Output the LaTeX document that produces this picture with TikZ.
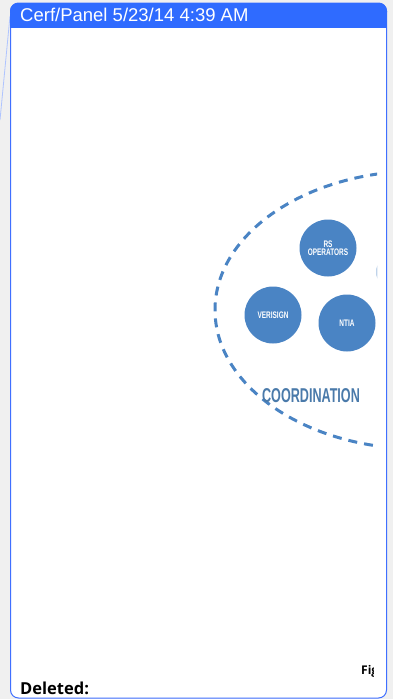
\documentclass[tikz,border=0pt]{standalone}
\usepackage{fontspec}
\setmainfont{Liberation Sans}
\newfontfamily\uifont{Open Sans}
\usepackage{graphicx}
\definecolor{pagegray}{HTML}{F0F0F0}
\definecolor{hdrblue}{HTML}{2F6BFF}
\definecolor{edgeblue}{HTML}{3F6FFF}
\definecolor{circblue}{HTML}{4A84C4}
\definecolor{textblue}{HTML}{4A7AAA}
\definecolor{leader}{HTML}{AFC4FF}
\tikzset{
  orgcircle/.style={circle, fill=circblue, minimum size=57pt, inner sep=0pt, text=white, font=\bfseries\fontsize{9.5}{10}\selectfont, align=center},
  dashring/.style={draw=circblue, line width=3pt, dash pattern=on 9pt off 7pt},
}
\begin{document}
\begin{tikzpicture}[x=1pt,y=-1pt]
\useasboundingbox (0,0) rectangle (393,699);
\fill[pagegray] (0,0) rectangle (393,699);
% leader line
\coordinate (lA) at (10,16);
\coordinate (lB) at (0,120);
\draw[leader, line width=0.8pt] (lA) -- (lB);
% panel
\path[fill=white, draw=edgeblue, line width=1pt, rounded corners=8pt] (10.5,3) rectangle (386.5,698);
\path[fill=hdrblue, rounded corners=8pt] (10,3) rectangle (387,20);
\fill[hdrblue] (10,14) rectangle (387,28);
\node[anchor=base west, text=white, font=\fontsize{18.5}{20}\selectfont, inner sep=0pt] (hdr) at (20,21) {Cerf/Panel 5/23/14 4:39 AM};
% diagram clipped
\begin{scope}
\clip (11,29) rectangle (377,697);
\draw[dashring] (420,310) ellipse [x radius=205, y radius=139];
\node[orgcircle] (rs) at (328,248) {\scalebox{0.68}[1]{RS}\\[-1.5pt]\scalebox{0.68}[1]{OPERATORS}};
\node[orgcircle] (veri) at (273,315) {\scalebox{0.68}[1]{VERISIGN}};
\node[orgcircle] (ntia) at (347,323) {\scalebox{0.68}[1]{NTIA}};
\node[orgcircle] (part) at (405,272) {};
\node[text=textblue, font=\bfseries\fontsize{20}{22}\selectfont] (coord) at (311,396) {\scalebox{0.63}[1]{COORDINATION}};
\end{scope}
\begin{scope}
\clip (11,650) rectangle (373,697);
\node[anchor=base west, inner sep=0pt, font=\uifont\bfseries\fontsize{12}{13}\selectfont] (fig) at (361,674) {Fig};
\end{scope}
\node[anchor=base west, inner sep=0pt, font=\uifont\bfseries\fontsize{16.5}{18}\selectfont] (del) at (20,694) {Deleted:};
\end{tikzpicture}
\end{document}
